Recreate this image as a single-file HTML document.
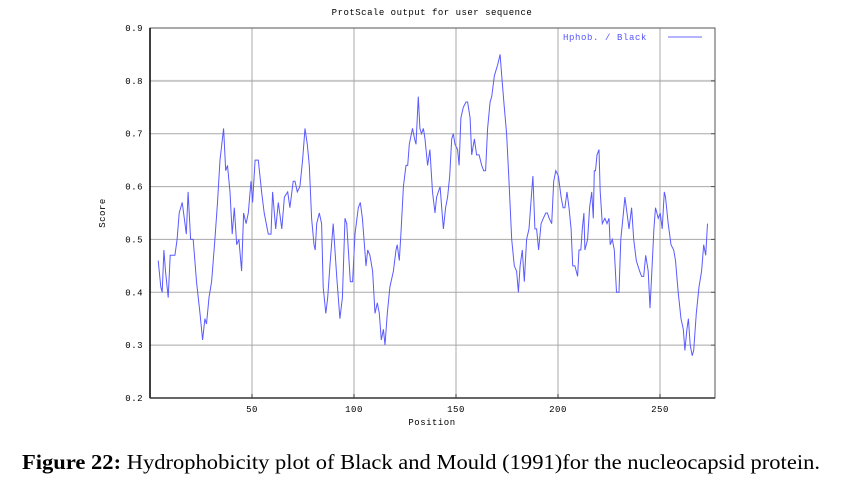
<!DOCTYPE html>
<html><head><meta charset="utf-8"><style>
body{margin:0;background:#fff;width:850px;height:480px;overflow:hidden}
svg text{font-family:"Liberation Mono",monospace}
svg text.cap{font-family:"Liberation Serif",serif}
</style></head><body>
<svg width="850" height="480">
<g id="grid"></g>
<g id="axes"></g>
<text x="432" y="15" font-size="9" text-anchor="middle" letter-spacing="0.5">ProtScale output for user sequence</text>
<text x="432" y="425" font-size="9" text-anchor="middle" letter-spacing="0.5">Position</text>
<text x="105" y="213" font-size="9" text-anchor="middle" letter-spacing="0.5" transform="rotate(-90 105 213)">Score</text>
<g>
<text x="563" y="40" font-size="9" fill="#5555ff" letter-spacing="0.6">Hphob. / Black</text>
<line x1="668" y1="37" x2="702" y2="37" stroke="#8888ff" stroke-width="1.2"/>
</g>
<path id="series" fill="none" stroke="#5a5aff" stroke-width="1"/>
<text class="cap" x="22" y="469" font-size="21" textLength="798" lengthAdjust="spacingAndGlyphs"><tspan font-weight="bold">Figure 22:</tspan> Hydrophobicity plot of Black and Mould (1991)for the nucleocapsid protein.</text>
</svg>
<script>
const positions=[4,5.3,6,6.8,7.6,8.9,9.9,12.2,13.3,14.3,15.8,16.8,17.8,18.7,19.9,21.2,22.8,24.5,25.8,26.9,27.7,28.9,30.2,31.8,33.1,34.3,36.1,37.1,38,39.2,40.3,41.3,42.5,43.6,44.9,45.9,47.1,48.2,49.5,50.3,51.5,53.1,54.7,56,58,59.3,60.1,61.6,62.9,64.6,65.9,67.5,
68.6,70.2,71.1,72.2,73.5,74.8,76,77.1,78.1,79.2,80.4,81,81.7,83,84.1,84.9,86.2,87.1,88.2,89.8,91.5,93.1,94.3,95.6,96.4,97.4,98.2,99.3,100.5,102.1,103.1,104.1,104.9,105.9,106.7,107.8,109.1,110.3,111.4,112.4,113.4,114.4,115.2,116.3,117.6,119.3,120.6,121.2,122.2,123,124.2,125.5,126.3,127.1,128.7,129.7,130.4,131.5,132.3,133.1,134,134.8,136.1,137.2,138.5,
139.7,140.5,141.3,142.2,143,143.8,144.9,145.9,146.9,147.9,148.7,149.5,150.8,151.5,152.4,153.6,154.9,155.7,156.9,157.7,159,160.1,161.3,162.6,163.6,164.5,165.5,166.7,167.5,168.8,169.6,170.4,171.6,172.4,173.7,174.8,176,177.3,178.6,179.7,180.6,181.4,182.5,183.5,184.6,185.8,187.1,187.7,188.7,189.5,190.5,191.7,192.8,194,194.8,195.7,196.9,197.9,198.9,200.2,201.5,202.5,203.4,204.4,205.4,206.4,207.2,
208.3,209.6,210.3,211.2,211.9,212.7,213.2,214.5,215.5,216.5,217.3,217.8,218.4,219.1,220.1,220.7,221.7,223,224,225,225.6,226.6,227.6,228.7,229.9,230.8,231.8,232.8,233.8,234.8,236.1,237.1,238.4,240,241,242,243,244.2,245.1,245.9,247,247.8,248.5,249.1,250.1,251.1,252.1,252.7,254,255.4,256.7,257.6,258.9,260.3,261.4,262.2,263.2,263.9,264.8,265.8,266.5,267.8,269.1,270.4,271.4,272.4,273.3];
const scores=[0.46,0.41,0.40,0.48,0.44,0.39,0.47,0.47,0.50,0.55,0.57,0.54,0.51,0.59,0.50,0.50,0.42,0.36,0.31,0.35,0.34,0.39,0.42,0.50,0.57,0.65,0.71,0.63,0.64,0.59,0.51,0.56,0.49,0.50,0.44,0.55,0.53,0.55,0.61,0.57,0.65,0.65,0.59,0.55,0.51,0.51,0.59,0.52,0.57,0.52,0.58,0.59,
0.56,0.61,0.61,0.59,0.60,0.65,0.71,0.68,0.64,0.54,0.49,0.48,0.53,0.55,0.53,0.41,0.36,0.39,0.45,0.53,0.43,0.35,0.39,0.54,0.53,0.47,0.42,0.42,0.51,0.56,0.57,0.54,0.50,0.45,0.48,0.47,0.44,0.36,0.38,0.36,0.31,0.33,0.30,0.36,0.41,0.44,0.48,0.49,0.46,0.51,0.60,0.64,0.64,0.68,0.71,0.69,0.68,0.77,0.71,0.70,0.71,0.69,0.64,0.67,0.59,
0.55,0.58,0.59,0.60,0.56,0.52,0.56,0.58,0.62,0.69,0.70,0.68,0.67,0.64,0.73,0.75,0.76,0.76,0.73,0.66,0.69,0.66,0.66,0.64,0.63,0.63,0.71,0.76,0.77,0.81,0.82,0.83,0.85,0.81,0.75,0.70,0.61,0.50,0.45,0.44,0.40,0.45,0.48,0.42,0.50,0.52,0.59,0.62,0.52,0.52,0.48,0.53,0.54,0.55,0.55,0.54,0.53,0.61,0.63,0.62,0.58,0.56,0.56,0.59,0.56,0.52,0.45,
0.45,0.43,0.48,0.48,0.52,0.55,0.48,0.50,0.56,0.59,0.54,0.63,0.63,0.66,0.67,0.59,0.53,0.54,0.53,0.54,0.49,0.50,0.48,0.40,0.40,0.50,0.54,0.58,0.55,0.52,0.56,0.50,0.46,0.44,0.43,0.43,0.47,0.44,0.37,0.43,0.52,0.56,0.55,0.54,0.55,0.52,0.59,0.58,0.53,0.49,0.48,0.46,0.40,0.35,0.33,0.29,0.33,0.35,0.30,0.28,0.29,0.36,0.41,0.44,0.49,0.47,0.53];
const yTicks=[0.2,0.3,0.4,0.5,0.6,0.7,0.8,0.9];
const xTicks=[50,100,150,200,250];
const L=150,R=715,T=28,B=398;
const xS=p=>L+p*(252-150)/50;
const yS=v=>B-(v-0.2)/0.7*(B-T);
const NS='http://www.w3.org/2000/svg';
const grid=document.getElementById('grid'),axes=document.getElementById('axes');
function mk(tag,attrs,parent){const e=document.createElementNS(NS,tag);for(const k in attrs)e.setAttribute(k,attrs[k]);parent.appendChild(e);return e;}
yTicks.forEach(v=>{
  const y=yS(v);
  if(v>0.2&&v<0.9){const g=mk('line',{x1:L,x2:R,y1:y,y2:y,stroke:v===0.8?'#c8c8c8':'#a8a8a8','stroke-width':v===0.8?2:1},grid);
  
  }
  const t=mk('text',{x:143,y:y+3,'font-size':9,'text-anchor':'end','letter-spacing':0.5},axes);
  t.textContent=v.toFixed(1);
  
  
  const tk=mk('line',{x1:R-4,x2:R,y1:y,y2:y,stroke:'#555'},axes);
  
  
});
xTicks.forEach(p=>{
  const x=xS(p);
  const g=mk('line',{x1:x,x2:x,y1:T,y2:B,stroke:'#a8a8a8'},grid);
  
  
  const t=mk('text',{x:x,y:412,'font-size':9,'text-anchor':'middle','letter-spacing':0.5},axes);
  t.textContent=p;
  
  
  const tk=mk('line',{x1:x,x2:x,y1:B-4,y2:B,stroke:'#333'},axes);
  
  
});
const frame=mk('rect',{x:L,y:T,width:R-L,height:B-T,fill:'none',stroke:'#555','stroke-width':1},axes);


const lft=mk('line',{x1:L,x2:L,y1:T,y2:B,stroke:'#000','stroke-width':1.5},axes);


const bot=mk('line',{x1:L,x2:R,y1:B,y2:B,stroke:'#333','stroke-width':1.5},axes);


document.getElementById('series').setAttribute('d',positions.map((p,i)=>(i?'L':'M')+xS(p).toFixed(1)+','+yS(scores[i]).toFixed(1)).join(''));
</script>
</body></html>
